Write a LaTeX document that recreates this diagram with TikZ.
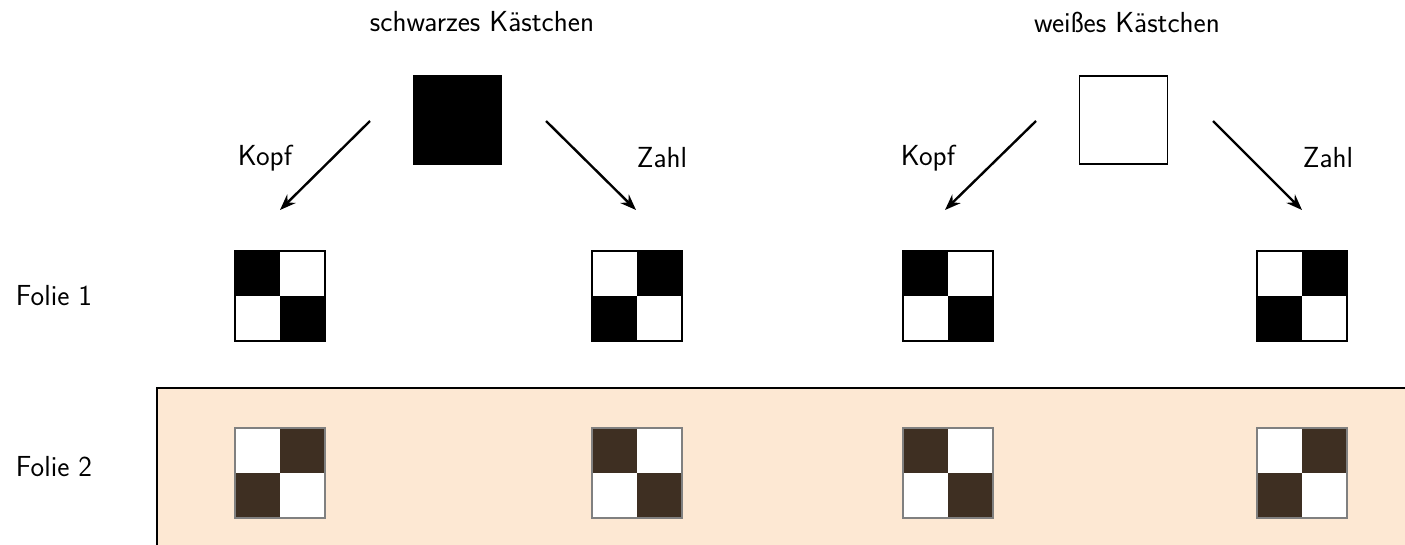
\documentclass[tikz,border=0pt]{standalone}
\usetikzlibrary{arrows.meta}
\definecolor{panelfill}{HTML}{FDE8D3}
\definecolor{darkcell}{HTML}{3E2F22}
\begin{document}
\begin{tikzpicture}[x=1pt,y=-1pt,
  lbl/.style={font=\sffamily\fontsize{29}{33}\selectfont, inner sep=0pt},
  bigsq/.style={draw=black, line width=1.2pt, minimum size=88pt, inner sep=0pt},
  arr/.style={line width=2.4pt, -{Stealth[length=16pt,width=12pt]}},
]
\useasboundingbox (0,0) rectangle (1405,544);
% panel
\fill[panelfill] (157,388) rectangle (1410,550);
\draw[line width=1.6pt] (157,550) -- (157,388) -- (1410,388);

% titles
\node[lbl] (t1) at (482,22) {schwarzes Kästchen};
\node[lbl] (t2) at (1127,22) {weißes Kästchen};
% big squares
\node[bigsq, fill=black] (bs) at (457.5,120) {};
\node[bigsq, fill=white] (ws) at (1123.5,120) {};
% arrows
\coordinate (a1s) at (370,121); \coordinate (a1e) at (280,210);
\coordinate (a2s) at (546,121); \coordinate (a2e) at (636,210);
\coordinate (a3s) at (1036,121); \coordinate (a3e) at (945,210);
\coordinate (a4s) at (1213,121); \coordinate (a4e) at (1302,210);
\draw[arr] (a1s) -- (a1e);
\draw[arr] (a2s) -- (a2e);
\draw[arr] (a3s) -- (a3e);
\draw[arr] (a4s) -- (a4e);
\node[lbl] (k1) at (265,158) {Kopf};
\node[lbl] (z1) at (662,158) {Zahl};
\node[lbl] (k2) at (928,158) {Kopf};
\node[lbl] (z2) at (1328,158) {Zahl};
% row labels
\node[lbl] (f1) at (54,296) {Folie 1};
\node[lbl] (f2) at (54,467) {Folie 2};

% checkerboards: #1 x-left, #2 y-top, #3 1 = top-left dark, 0 = top-right dark, #4 fill, #5 border
\newcommand{\checkbd}[5]{%
  \fill[white] (#1,#2) rectangle ++(90,90);
  \ifnum#3=1
    \fill[#4] (#1,#2) rectangle ++(45,45);
    \fill[#4] (#1+45,#2+45) rectangle ++(45,45);
  \else
    \fill[#4] (#1+45,#2) rectangle ++(45,45);
    \fill[#4] (#1,#2+45) rectangle ++(45,45);
  \fi
  \draw[#5, line width=1.2pt] (#1,#2) rectangle ++(90,90);
}
\checkbd{235}{251}{1}{black}{black}
\checkbd{592}{251}{0}{black}{black}
\checkbd{903}{251}{1}{black}{black}
\checkbd{1257}{251}{0}{black}{black}
\checkbd{235}{428}{0}{darkcell}{gray}
\checkbd{592}{428}{1}{darkcell}{gray}
\checkbd{903}{428}{1}{darkcell}{gray}
\checkbd{1257}{428}{0}{darkcell}{gray}
\end{tikzpicture}
\end{document}
